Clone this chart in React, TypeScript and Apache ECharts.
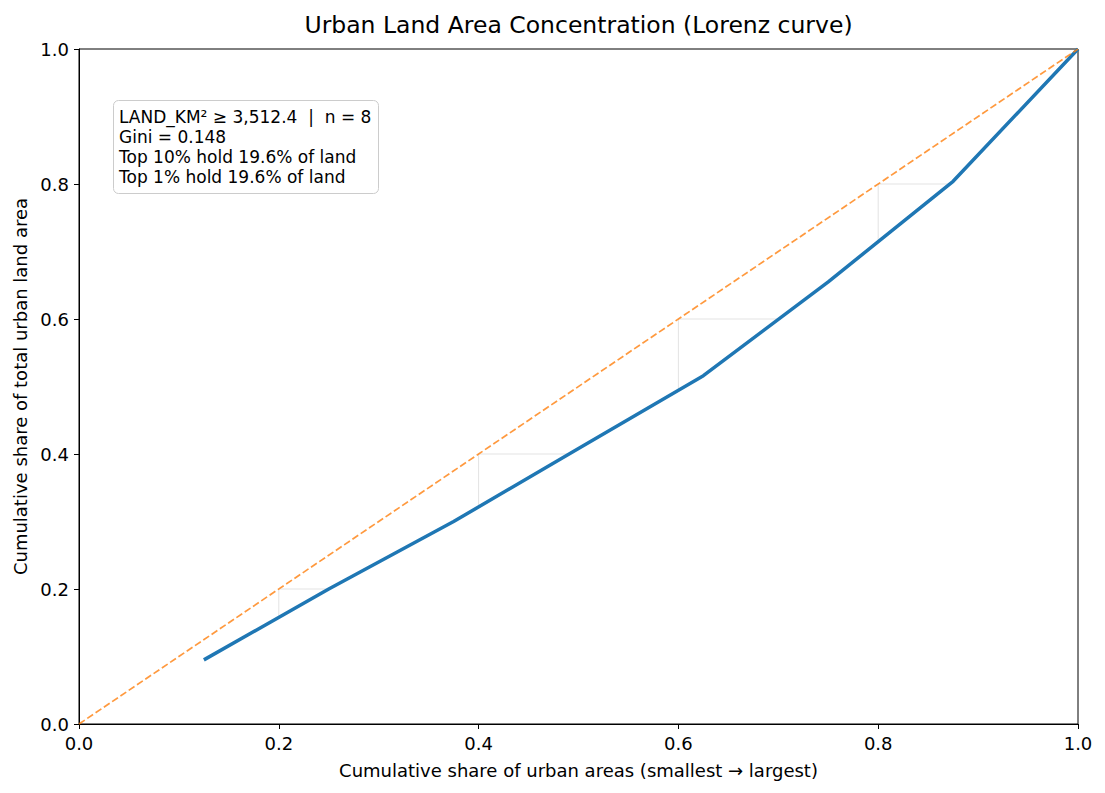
import React, { useEffect, useRef } from "react";
import * as echarts from "echarts";

const titleText = "Urban Land Area Concentration (Lorenz curve)";
const xAxisName = "Cumulative share of urban areas (smallest \u2192 largest)";
const yAxisName = "Cumulative share of total urban land area";
const cumAreaShare = [0.125, 0.25, 0.375, 0.5, 0.625, 0.75, 0.875, 1.0];
const cumLandShare = [0.095, 0.2, 0.3, 0.408, 0.516, 0.655, 0.804, 1.0];
const equalityLine = [
  [0, 0],
  [1, 1],
];
const gridValues = [0.2, 0.4, 0.6, 0.8];
const infoLines = [
  "LAND_KM\u00b2 \u2265 3,512.4  |  n = 8",
  "Gini = 0.148",
  "Top 10% hold 19.6% of land",
  "Top 1% hold 19.6% of land",
];

function curveAt(x: number): number {
  for (let i = 0; i < cumAreaShare.length - 1; i++) {
    const x0 = cumAreaShare[i], x1 = cumAreaShare[i + 1];
    if (x >= x0 && x <= x1) {
      const t = (x - x0) / (x1 - x0);
      return cumLandShare[i] + t * (cumLandShare[i + 1] - cumLandShare[i]);
    }
  }
  return NaN;
}
function curveInv(y: number): number {
  for (let i = 0; i < cumLandShare.length - 1; i++) {
    const y0 = cumLandShare[i], y1 = cumLandShare[i + 1];
    if (y >= y0 && y <= y1) {
      const t = (y - y0) / (y1 - y0);
      return cumAreaShare[i] + t * (cumAreaShare[i + 1] - cumAreaShare[i]);
    }
  }
  return NaN;
}

export default function App() {
  const ref = useRef<HTMLDivElement>(null);
  useEffect(() => {
    document.body.style.margin = "0";
    const chart = echarts.init(ref.current!, null, { renderer: "svg" });
    const font = "DejaVu Sans";
    const segSeries: any[] = [];
    gridValues.forEach((g) => {
      segSeries.push({
        type: "line",
        data: [
          [g, g],
          [curveInv(g), g],
        ],
        symbol: "none",
        lineStyle: { color: "#e3e3e3", width: 1 },
        z: 1,
        silent: true,
      });
      segSeries.push({
        type: "line",
        data: [
          [g, g],
          [g, curveAt(g)],
        ],
        symbol: "none",
        lineStyle: { color: "#e3e3e3", width: 1 },
        z: 1,
        silent: true,
      });
    });
    const axisCommon = {
      type: "value",
      min: 0,
      max: 1,
      interval: 0.2,
      nameLocation: "middle",
      nameTextStyle: { fontFamily: font, fontSize: 18, color: "#000" },
      axisLine: { show: true, lineStyle: { color: "#000", width: 1 } },
      axisTick: { show: true, inside: false, length: 5, lineStyle: { color: "#000" } },
      axisLabel: {
        fontFamily: font,
        fontSize: 18,
        color: "#000",
        formatter: (v: number) => v.toFixed(1),
      },
      splitLine: { show: false },
    };
    const lh = 20;
    chart.setOption({
      animation: false,
      backgroundColor: "#fff",
      title: {
        text: titleText,
        left: 573.5,
        textAlign: "center",
        top: 8,
        textStyle: { fontFamily: font, fontSize: 23.5, fontWeight: "normal", color: "#000" },
      },
      grid: {
        left: 79,
        right: 27,
        top: 49,
        bottom: 69,
        show: true,
        borderColor: "#000",
        borderWidth: 1,
        containLabel: false,
      },
      xAxis: {
        ...axisCommon,
        name: xAxisName,
        nameGap: 37,
        axisLabel: { ...axisCommon.axisLabel, margin: 10 },
      },
      yAxis: {
        ...axisCommon,
        name: yAxisName,
        nameGap: 50,
        axisLabel: { ...axisCommon.axisLabel, margin: 10 },
      },
      graphic: [
        {
          type: "rect",
          shape: { x: 113.5, y: 100.5, width: 265, height: 93, r: 5 },
          style: { fill: "rgba(255,255,255,0.85)", stroke: "#cccccc", lineWidth: 1 },
          z: 100,
        },
        ...infoLines.map((t, i) => ({
          type: "text",
          x: 119,
          y: 117 + i * lh,
          style: {
            text: t,
            fontFamily: font,
            fontSize: 17,
            fill: "#000",
            textVerticalAlign: "middle",
            verticalAlign: "middle",
          },
          z: 101,
        })),
      ],
      series: [
        ...segSeries,
        {
          type: "line",
          data: cumAreaShare.map((x, i) => [x, cumLandShare[i]]),
          symbol: "none",
          lineStyle: { color: "#1f77b4", width: 3.5 },
          z: 3,
        },
        {
          type: "line",
          data: equalityLine,
          symbol: "none",
          lineStyle: { color: "#ff7f0e", width: 1.7, type: [7, 3], opacity: 0.8 },
          z: 4,
        },
      ],
    });
    return () => chart.dispose();
  }, []);
  return <div ref={ref} style={{ width: 1105, height: 793 }} />;
}
